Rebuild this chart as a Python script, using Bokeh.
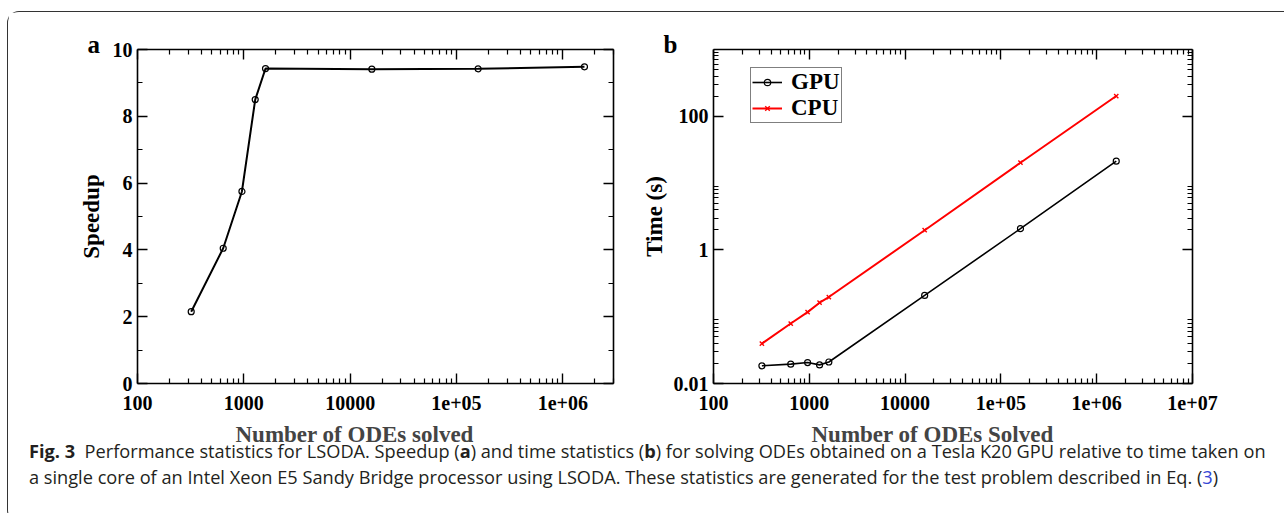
from bokeh.plotting import figure
from bokeh.models import (FixedTicker, LinearAxis, LogAxis, Range1d,
                          Legend, LegendItem, Title, Div, CustomJSTickFormatter)
from bokeh.layouts import row, column
from bokeh.embed import file_html
from bokeh.resources import INLINE

# ---------------- data ----------------
n_odes = [320, 640, 960, 1280, 1600, 16000, 160000, 1600000]
speedup = [2.15, 4.05, 5.75, 8.5, 9.43, 9.41, 9.42, 9.48]
gpu_time = [0.0184, 0.0195, 0.0206, 0.019, 0.021, 0.208, 2.08, 21.3]
cpu_time = [0.0395, 0.079, 0.117, 0.162, 0.197, 1.97, 20.2, 201]

x_ticks = [100, 1000, 10000, 100000, 1000000, 10000000]
x_tick_labels = ["100", "1000", "10000", "1e+05", "1e+06", "1e+07"]
speedup_ticks = [0, 2, 4, 6, 8, 10]
speedup_minor = [1, 3, 5, 7, 9]
time_ticks = [0.01, 1, 100]
time_tick_labels = ["0.01", "1", "100"]
series_names = ["GPU", "CPU"]
panel_letters = ["a", "b"]

x_minor = [k * 10 ** d for d in range(2, 7) for k in range(2, 10)]
time_minor = [k * t for t in time_ticks for k in range(2, 10)]

SERIF = "Liberation Serif"
TICK_FS = "20px"
TITLE_FS = "23px"


def style_axis(ax, show_labels=True):
    ax.axis_line_width = 1.6
    ax.axis_line_color = "black"
    ax.major_tick_in = 10
    ax.major_tick_out = 0
    ax.minor_tick_in = 5
    ax.minor_tick_out = 0
    ax.major_tick_line_width = 1.4
    ax.minor_tick_line_width = 1.2
    ax.major_tick_line_color = "black"
    ax.minor_tick_line_color = "black"
    ax.major_label_text_font = SERIF
    ax.major_label_text_font_style = "bold"
    ax.major_label_text_color = "black"
    if show_labels:
        ax.major_label_text_font_size = TICK_FS
    else:
        ax.formatter = CustomJSTickFormatter(code="return ''")
        ax.major_label_text_font_size = "1px"
        ax.major_label_standoff = 0
    ax.axis_label_text_font = SERIF
    ax.axis_label_text_font_style = "bold"
    ax.axis_label_text_font_size = TITLE_FS
    ax.axis_label_text_color = "black"


def letter_title(txt):
    return Title(text=txt, align="left", offset=-50, vertical_align="bottom",
                 standoff=-16, text_font=SERIF, text_font_style="bold",
                 text_font_size="25px", text_color="black")


x_overrides = {t: l for t, l in zip(x_ticks, x_tick_labels)}
time_overrides = {t: l for t, l in zip(time_ticks, time_tick_labels)}

# ---------------- panel a ----------------
pa = figure(x_axis_type="log", output_backend="svg", toolbar_location=None,
            frame_width=476, frame_height=334,
            x_range=Range1d(100, 3e6), y_range=Range1d(0, 10),
            min_border_left=129, min_border_right=20,
            min_border_top=36, min_border_bottom=70)
pa.outline_line_color = None
pa.grid.visible = False

xt_a = FixedTicker(ticks=x_ticks[:5], minor_ticks=x_minor)
yt_a = FixedTicker(ticks=speedup_ticks, minor_ticks=speedup_minor)
pa.xaxis.ticker = xt_a
pa.xaxis.major_label_overrides = x_overrides
pa.yaxis.ticker = yt_a
pa.yaxis.axis_label = "Speedup"
pa.yaxis.axis_label_standoff = 6
pa.xaxis.major_label_standoff = 12
pa.yaxis.major_label_standoff = 5
style_axis(pa.xaxis[0])
style_axis(pa.yaxis[0])

ax_top_a = LogAxis(ticker=xt_a)
style_axis(ax_top_a, False)
pa.add_layout(ax_top_a, "above")
ax_right_a = LinearAxis(ticker=yt_a)
style_axis(ax_right_a, False)
pa.add_layout(ax_right_a, "right")
pa.add_layout(letter_title(panel_letters[0]), "above")

pa.line(n_odes, speedup, line_color="black", line_width=2)
pa.scatter(n_odes, speedup, marker="circle", size=6, fill_color=None,
           line_color="black", line_width=1.2)

pa.add_layout(Title(text="Number of ODEs solved", align="left", offset=98,
                    text_font=SERIF, text_font_style="bold",
                    text_font_size=TITLE_FS, standoff=15), "below")

# ---------------- panel b ----------------
pb = figure(x_axis_type="log", y_axis_type="log", output_backend="svg",
            toolbar_location=None, frame_width=479, frame_height=334,
            x_range=Range1d(100, 1e7), y_range=Range1d(0.01, 1000),
            min_border_left=80, min_border_right=92,
            min_border_top=37, min_border_bottom=69)
pb.outline_line_color = None
pb.grid.visible = False

xt_b = FixedTicker(ticks=x_ticks, minor_ticks=x_minor)
yt_b = FixedTicker(ticks=time_ticks, minor_ticks=time_minor)
pb.xaxis.ticker = xt_b
pb.xaxis.major_label_overrides = x_overrides
pb.yaxis.ticker = yt_b
pb.yaxis.major_label_overrides = time_overrides
pb.yaxis.axis_label = "Time (s)"
pb.yaxis.axis_label_standoff = 4
pb.xaxis.major_label_standoff = 12
pb.yaxis.major_label_standoff = 5
style_axis(pb.xaxis[0])
style_axis(pb.yaxis[0])

ax_top_b = LogAxis(ticker=xt_b)
style_axis(ax_top_b, False)
pb.add_layout(ax_top_b, "above")
ax_right_b = LogAxis(ticker=yt_b)
style_axis(ax_right_b, False)
pb.add_layout(ax_right_b, "right")
pb.add_layout(letter_title(panel_letters[1]), "above")

g_line = pb.line(n_odes, gpu_time, line_color="black", line_width=1.6)
g_pts = pb.scatter(n_odes, gpu_time, marker="circle", size=6, fill_color=None,
                   line_color="black", line_width=1.2)
c_line = pb.line(n_odes, cpu_time, line_color="#ff0000", line_width=2)
c_pts = pb.scatter(n_odes, cpu_time, marker="x", size=6, line_color="#ff0000",
                   line_width=1.4)

legend = Legend(items=[LegendItem(label=series_names[0], renderers=[g_line, g_pts]),
                       LegendItem(label=series_names[1], renderers=[c_line, c_pts])],
                location=(37, 260), orientation="vertical",
                border_line_color="black", border_line_width=1.2,
                background_fill_color="white", background_fill_alpha=1,
                label_text_font=SERIF, label_text_font_style="bold",
                label_text_font_size="23px", label_text_color="black",
                glyph_width=30, glyph_height=16, label_standoff=9,
                label_height=16, padding=1, spacing=0, margin=0)
pb.add_layout(legend)

pb.add_layout(Title(text="Number of ODEs Solved", align="left", offset=98,
                    text_font=SERIF, text_font_style="bold",
                    text_font_size=TITLE_FS, standoff=15), "below")

# ---------------- caption ----------------
caption_html = (
    '<div style="font-family:\'Open Sans\',sans-serif;font-size:18.2px;line-height:26px;'
    'color:#231f20;position:relative;top:-21px;padding-left:16px;white-space:nowrap;">'
    '<b>Fig.&nbsp;3</b>&nbsp;&nbsp;Performance statistics for LSODA. Speedup (<b>a</b>) '
    'and time statistics (<b>b</b>) for solving ODEs obtained on a Tesla K20 GPU relative '
    'to time taken on<br>a single core of an Intel Xeon E5 Sandy Bridge processor using '
    'LSODA. These statistics are generated for the test problem described in Eq. '
    '(<span style="color:#3546d6">3</span>)</div>'
)
cap = Div(text=caption_html, width=1276, height=57)

layout = column(row(pa, pb), cap, margin=(11, 0, 0, 7),
                styles={"border-top": "1px solid #333",
                        "border-left": "1px solid #333",
                        "border-bottom": "1px solid #333",
                        "border-top-left-radius": "12px",
                        "border-bottom-left-radius": "12px"})

open("out.html", "w").write(file_html(layout, INLINE))
